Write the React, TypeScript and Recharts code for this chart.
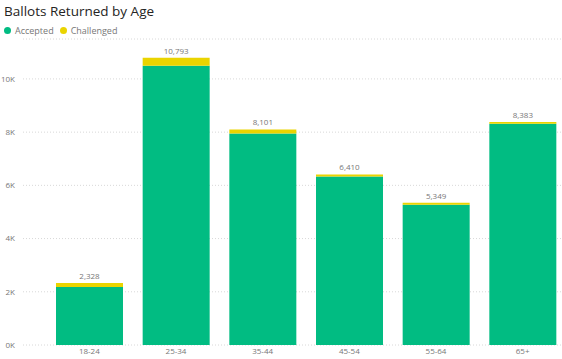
import { BarChart, Bar, XAxis, YAxis, CartesianGrid, LabelList } from 'recharts'

const ageGroups = ['18-24', '25-34', '35-44', '45-54', '55-64', '65+']
const accepted = [2178, 10493, 7951, 6330, 5269, 8313]
const challenged = [150, 300, 150, 80, 80, 70]
const yTicks = [0, 2000, 4000, 6000, 8000, 10000]

const GREEN = '#01BC82'
const YELLOW = '#EAD400'
const FONT = '"Segoe UI", "Open Sans", "Noto Sans", sans-serif'

const data = ageGroups.map((age, i) => ({
  age,
  accepted: accepted[i],
  challenged: challenged[i],
  total: accepted[i] + challenged[i],
}))

export default function App() {
  return (
    <div
      style={{
        position: 'absolute', left: 0, top: 0, width: 562, height: 359,
        overflow: 'hidden', background: '#fff', fontFamily: FONT,
      }}
    >
      <div style={{ position: 'absolute', left: 4, top: 2, fontSize: 13.5, color: '#252423' }}>
        Ballots Returned by Age
      </div>
      <div
        style={{
          position: 'absolute', left: 4, top: 24, fontSize: 9, color: '#777',
          display: 'flex', alignItems: 'center', gap: 4,
        }}
      >
        <span style={{ width: 7, height: 7, borderRadius: 4, background: GREEN, display: 'inline-block' }} />
        <span>Accepted</span>
        <span style={{ width: 7, height: 7, borderRadius: 4, background: YELLOW, display: 'inline-block', marginLeft: 2 }} />
        <span>Challenged</span>
      </div>

      <BarChart
        width={566}
        height={359}
        data={data}
        margin={{ top: 39, right: 0, left: 0, bottom: 0 }}
        barCategoryGap={10}
        style={{ position: 'absolute', left: 0, top: 0 }}
      >
        <CartesianGrid vertical={false} stroke="#d8d8d8" strokeDasharray="1 2" />
        <XAxis
          dataKey="age"
          axisLine={false}
          tickLine={false}
          tickSize={0}
          tickMargin={3}
          height={14}
          padding={{ left: 23, right: 0 }}
          tick={{ fill: '#777', fontSize: 8, fontFamily: FONT }}
          interval={0}
        />
        <YAxis
          width={23}
          domain={[0, 11500]}
          ticks={yTicks}
          axisLine={false}
          tickLine={false}
          tickSize={0}
          tickMargin={8}
          tickFormatter={(v: number) => `${v / 1000}K`}
          tick={{ fill: '#777', fontSize: 8, fontFamily: FONT }}
        />
        <Bar dataKey="accepted" stackId="a" fill={GREEN} isAnimationActive={false} />
        <Bar dataKey="challenged" stackId="a" fill={YELLOW} isAnimationActive={false}>
          <LabelList
            dataKey="total"
            position="top"
            offset={4}
            formatter={(v: number) => v.toLocaleString('en-US')}
            style={{ fill: '#777', fontSize: 8, fontFamily: FONT }}
          />
        </Bar>
      </BarChart>
    </div>
  )
}
